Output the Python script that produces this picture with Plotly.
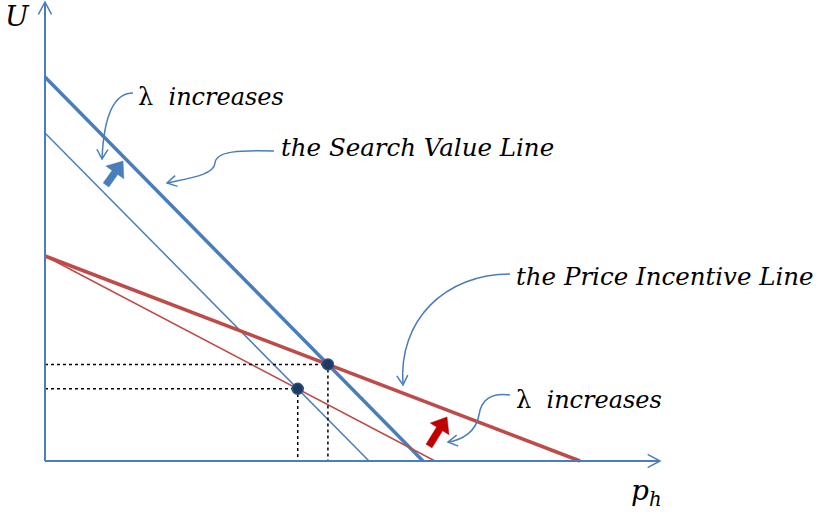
import numpy as np
import plotly.graph_objects as go

# ---------------- data (diagram units, origin at the axes corner) ----------------
# Search Value lines: U-intercept and p_h-intercept (after / before lambda increases)
sv_names = ["Search Value (high λ)", "Search Value (low λ)"]
sv_u0 = [384, 328]
sv_p0 = [378, 324]
sv_width = [3.5, 1.5]
# Price Incentive lines
pi_names = ["Price Incentive (high λ)", "Price Incentive (low λ)"]
pi_u0 = [205, 205]
pi_p0 = [535, 390]
pi_width = [3.5, 1.5]

BLUE = "#4A7EBB"
RED = "#BE4B48"
DARKRED = "#C00000"
NAVY = "#1F3A60"

# figure pixel frame: origin of the diagram at pixel (45, 461)
OX, OY = 45, 461
W, H = 818, 518


def P(x, y):
    """pixel position -> diagram coordinate"""
    return x - OX, OY - y


fig = go.Figure()

for n, a, b, w in zip(sv_names, sv_u0, sv_p0, sv_width):
    fig.add_trace(go.Scatter(x=[0, b], y=[a, 0], mode="lines", name=n,
                             line=dict(color=BLUE, width=w), hoverinfo="skip"))
for n, a, b, w in zip(pi_names, pi_u0, pi_p0, pi_width):
    fig.add_trace(go.Scatter(x=[0, b], y=[a, 0], mode="lines", name=n,
                             line=dict(color=RED, width=w), hoverinfo="skip"))

# equilibria: intersection of matching lines  y = a(1 - x/b)
eq_x, eq_y = [], []
for a1, b1, a2, b2 in zip(sv_u0, sv_p0, pi_u0, pi_p0):
    s1, s2 = -a1 / b1, -a2 / b2
    x = (a2 - a1) / (s1 - s2)
    eq_x.append(x)
    eq_y.append(a1 + s1 * x)

for x, y in zip(eq_x, eq_y):
    fig.add_trace(go.Scatter(x=[0, x, x], y=[y, y, 0], mode="lines",
                             line=dict(color="black", width=1.5, dash="dot"),
                             hoverinfo="skip"))
fig.add_trace(go.Scatter(x=eq_x, y=eq_y, mode="markers",
                         marker=dict(size=11, color=NAVY, line=dict(color="#2E4F7F", width=1.5)),
                         hoverinfo="skip"))

shapes = []


def chevron(tip, d, color, length=11, ang=30, width=1.5):
    d = np.array(d, float)
    d /= np.linalg.norm(d)
    out = []
    for s in (1, -1):
        t = np.radians(ang * s)
        r = np.array([d[0] * np.cos(t) - d[1] * np.sin(t), d[0] * np.sin(t) + d[1] * np.cos(t)])
        out.append(np.array(tip) - r * length)
    path = f"M {out[0][0]},{out[0][1]} L {tip[0]},{tip[1]} L {out[1][0]},{out[1][1]}"
    return dict(type="path", path=path, xref="x", yref="y",
                line=dict(color=color, width=width))


# axes with open arrowheads
ax_top = P(45, 2)
ax_right = P(660, 461)
shapes.append(dict(type="line", x0=0, y0=0, x1=ax_top[0], y1=ax_top[1], xref="x", yref="y",
                   line=dict(color=BLUE, width=2)))
shapes.append(dict(type="line", x0=0, y0=0, x1=ax_right[0], y1=ax_right[1], xref="x", yref="y",
                   line=dict(color=BLUE, width=2)))
shapes.append(chevron(ax_top, (0, 1), BLUE, length=14, ang=28, width=1.5))
shapes.append(chevron(ax_right, (1, 0), BLUE, length=14, ang=28, width=1.5))


def curve(pts_px, color=BLUE, width=1.5):
    pts = [P(*p) for p in pts_px]
    s = f"M {pts[0][0]},{pts[0][1]}"
    i = 1
    while i < len(pts):
        c1, c2, e = pts[i], pts[i + 1], pts[i + 2]
        s += f" C {c1[0]},{c1[1]} {c2[0]},{c2[1]} {e[0]},{e[1]}"
        i += 3
    shapes.append(dict(type="path", path=s, xref="x", yref="y",
                       line=dict(color=color, width=width)))
    tip = pts[-1]
    prev = pts[-2]
    shapes.append(chevron(tip, (tip[0] - prev[0], tip[1] - prev[1]), color))


curve([(133, 93), (116, 93), (104, 112), (102, 159)])
curve([(274, 151), (240, 150), (216, 151), (215, 163),
       (214, 175), (190, 178), (167, 183)])
curve([(510, 274), (445, 274), (398, 320), (403, 385)])
curve([(510, 395), (490, 392), (481, 401), (479, 415),
       (476, 432), (462, 440), (448, 442)])


def fat_arrow(tail_px, tip_px, color, shaft=7, head_w=22, head_len=14):
    t = np.array(P(*tail_px), float)
    h = np.array(P(*tip_px), float)
    d = h - t
    L = np.linalg.norm(d)
    d /= L
    n = np.array([-d[1], d[0]])
    base = h - d * head_len
    pts = [t + n * shaft / 2, base + n * shaft / 2, base + n * head_w / 2, h,
           base - n * head_w / 2, base - n * shaft / 2, t - n * shaft / 2]
    path = "M " + " L ".join(f"{p[0]},{p[1]}" for p in pts) + " Z"
    shapes.append(dict(type="path", path=path, xref="x", yref="y",
                       fillcolor=color, line=dict(color=color, width=0.5)))


fat_arrow((106, 185), (123, 161), BLUE)
fat_arrow((429, 446), (447, 417), DARKRED)

FONT = "DejaVu Serif, serif"
anns = []


def label(text, px, py, size=24, xanchor="left"):
    x, y = P(px, py)
    anns.append(dict(x=x, y=y, xref="x", yref="y", text=text, showarrow=False,
                     xanchor=xanchor, yanchor="middle",
                     font=dict(family=FONT, size=size, color="black")))


label("<i>U</i>", 17, 16, size=28, xanchor="center")
label("<i>p</i><sub><i>h</i></sub>", 646, 492, size=28, xanchor="center")
label("λ  <i>increases</i>", 136, 97)
label("<i>the Search Value Line</i>", 279, 147, size=24.5)
label("<i>the Price Incentive Line</i>", 514, 276, size=24.5)
label("λ  <i>increases</i>", 514, 400)

x0, y0 = P(0, H)
x1, y1 = P(W, 0)
fig.update_layout(
    width=W, height=H,
    margin=dict(l=0, r=0, t=0, b=0),
    paper_bgcolor="white", plot_bgcolor="white",
    showlegend=False,
    xaxis=dict(range=[x0, x1], visible=False, fixedrange=True),
    yaxis=dict(range=[y0, y1], visible=False, fixedrange=True),
    shapes=shapes, annotations=anns,
)

fig.write_html("out.html", config={"displayModeBar": False},
               post_script="document.body.style.margin='0';document.body.style.overflow='hidden';")
